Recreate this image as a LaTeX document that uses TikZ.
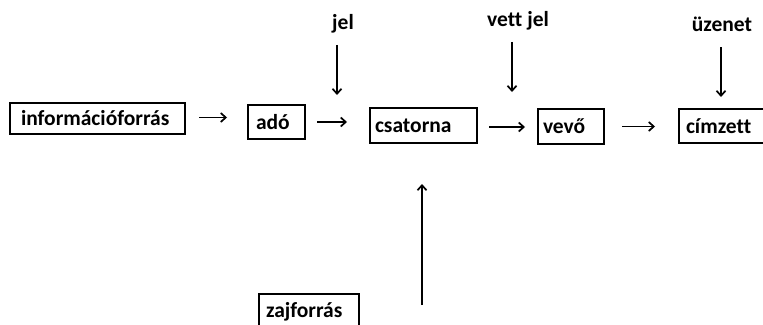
\documentclass[tikz,border=0pt]{standalone}
\usepackage{fontspec}
\setmainfont{Carlito}[Ligatures=NoCommon]
\usetikzlibrary{arrows.meta}
\newcommand\blokbetu{\fontsize{21.5}{24}\selectfont\bfseries\hyphenpenalty=10000\relax}
\tikzset{
  blokk/.style={draw, line width=2pt, anchor=north west, font=\blokbetu,
    align=left, inner xsep=6pt, inner ysep=0pt},
  felirat/.style={font=\blokbetu, anchor=base, inner sep=2pt},
  nyil/.style={line width=1.7pt, -{Straight Barb[length=5pt,width=9pt,line width=1.7pt]}}
}
\begin{document}
\begin{tikzpicture}[x=1pt,y=-1pt]
  \useasboundingbox (0,0) rectangle (763,324);
  % main chain
  \node[blokk, inner xsep=11pt, text width=153pt, minimum height=31pt] (forras) at (9,102) {információforrás};
  \node[blokk, inner xsep=8pt, text width=41pt, minimum height=34pt] (ado) at (247,104) {adó};
  \node[blokk, inner xsep=5pt, text width=97pt, minimum height=35pt] (csatorna) at (369,107) {csatorna};
  \node[blokk, inner xsep=5pt, text width=56pt, minimum height=35pt] (vevo) at (537,108) {vevő};
  \node[blokk, inner xsep=7pt, text width=85pt, minimum height=34pt] (cimzett) at (678,108) {címzett};
  \node[blokk, inner xsep=7pt, text width=86pt, minimum height=35pt] (zaj) at (258,293) {zajforrás};
  % labels above
  \node[felirat] (jel) at (343,29) {jel};
  \node[felirat] (vettjel) at (518,27) {vett jel};
  \node[felirat] (uzenet) at (722,31) {üzenet};
  % arrow ends
  \coordinate (jelveg) at (337,95);
  \coordinate (vettveg) at (512,92);
  \coordinate (uzenetveg) at (721,97);
  \coordinate (zajveg) at (422,305);
  % horizontal arrows
  \draw[nyil, shorten <=13pt, shorten >=20pt] ([yshift=1pt]forras.east) -- ([yshift=1pt]forras.east -| ado.west);
  \draw[nyil, shorten <=11pt, shorten >=22pt] (ado.east) -- (ado.east -| csatorna.west);
  \draw[nyil, shorten <=11pt, shorten >=12pt] ([yshift=-1.5pt]csatorna.east) -- ([yshift=-1.5pt]csatorna.east -| vevo.west);
  \draw[nyil, shorten <=17pt, shorten >=23pt] (vevo.east) -- (vevo.east -| cimzett.west);
  % vertical arrows
  \draw[nyil, shorten <=10pt] (jel.south -| jelveg) -- (jelveg);
  \draw[nyil, shorten <=9pt] (vettjel.south -| vettveg) -- (vettveg);
  \draw[nyil, shorten <=14pt] (uzenet.south -| uzenetveg) -- (uzenetveg);
  \draw[nyil, shorten >=40pt] (zajveg) -- (zajveg |- csatorna.south);
\end{tikzpicture}
\end{document}
